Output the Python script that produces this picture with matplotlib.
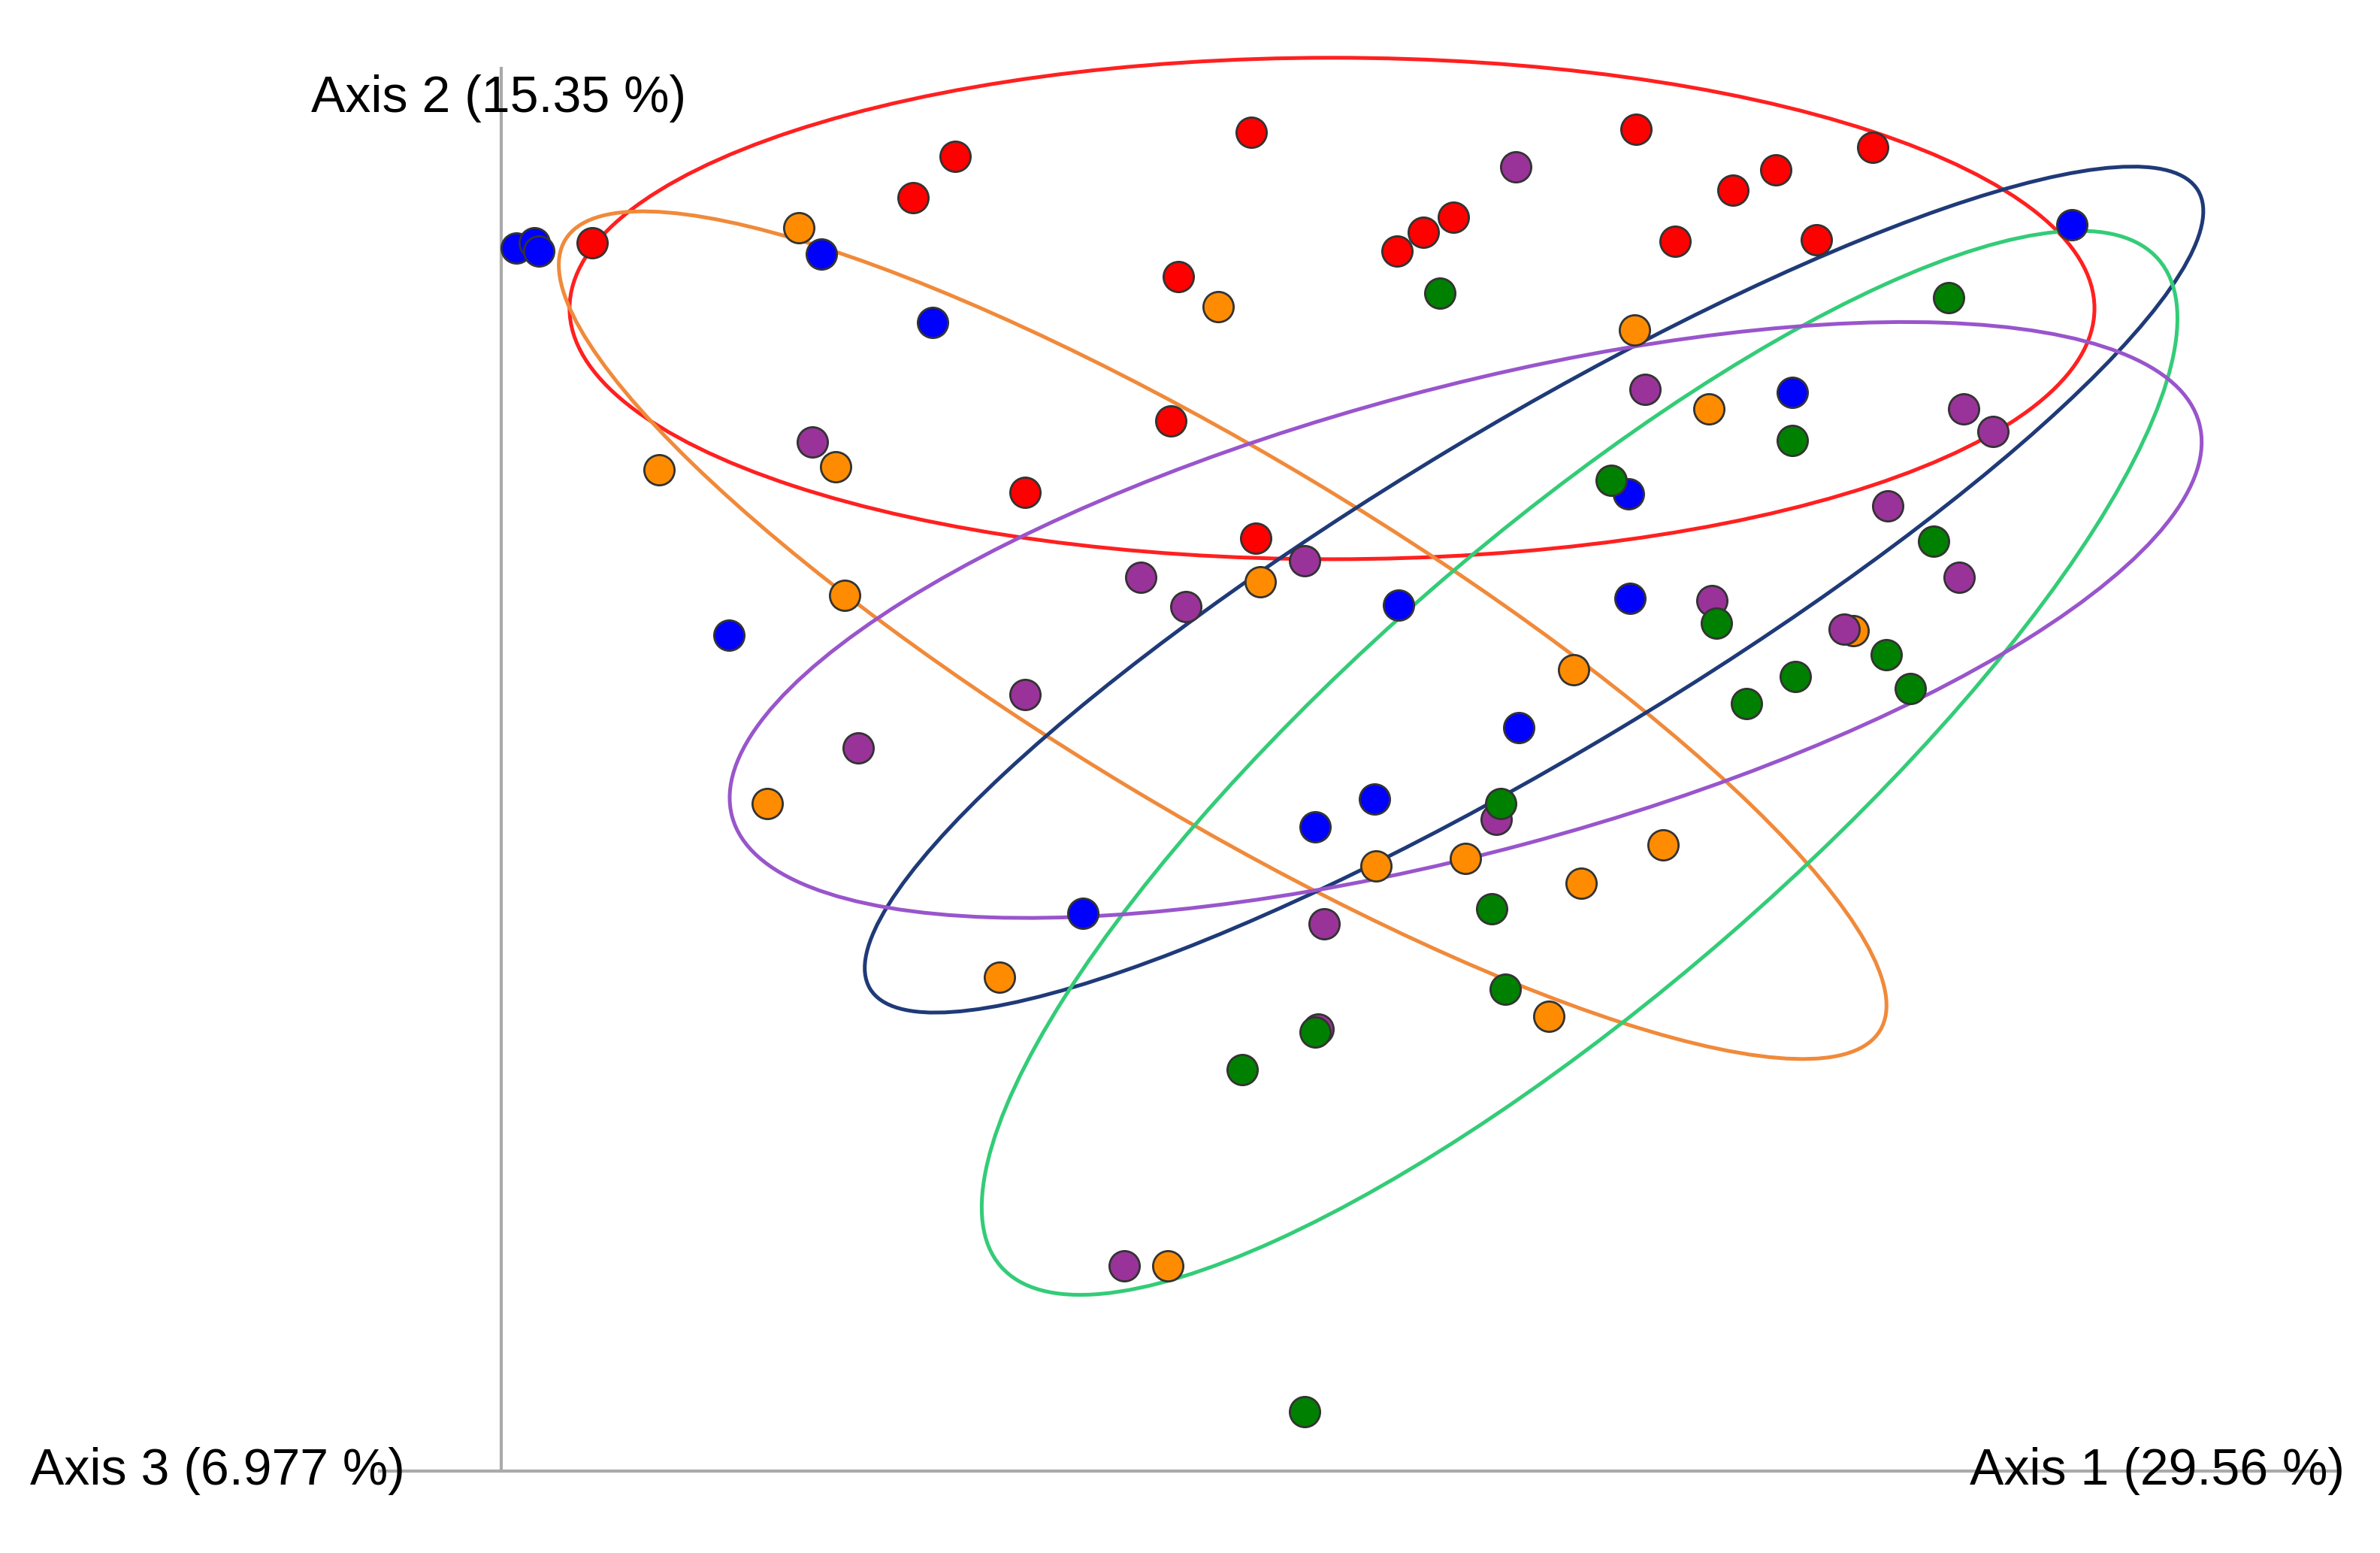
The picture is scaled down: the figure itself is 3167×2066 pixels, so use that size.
import matplotlib
matplotlib.use("Agg")
import matplotlib.pyplot as plt
from matplotlib.patches import Ellipse

# coordinates (image-pixel space, y downward)
red_x = [390, 601, 629, 824, 776, 771, 675, 827, 920, 937, 957, 1077, 1103, 1141, 1169, 1196, 1233]
red_y = [160, 130, 103, 87, 182, 277, 324, 354, 165, 153, 143, 85, 159, 125, 112, 158, 97]
blue_x = [340, 352, 355, 541, 614, 480, 713, 866, 905, 921, 1000, 1072, 1073, 1180, 1364]
blue_y = [163, 160, 165, 167, 212, 418, 601, 544, 526, 398, 479, 325, 394, 258, 148]
orange_x = [526, 802, 434, 550, 556, 505, 658, 830, 906, 965, 1036, 1041, 1095, 1020, 769, 1076, 1125, 1220]
orange_y = [150, 202, 309, 307, 392, 529, 643, 383, 570, 565, 441, 581, 556, 669, 833, 217, 269, 415]
purple_x = [998, 535, 751, 781, 859, 675, 565, 985, 872, 868, 740, 1083, 1127, 1214, 1243, 1293, 1312, 1290]
purple_y = [110, 291, 380, 399, 369, 457, 492, 539, 608, 677, 833, 256, 395, 414, 333, 269, 284, 380]
green_x = [948, 1283, 1180, 1061, 1130, 1150, 1182, 1242, 1258, 1273, 988, 982, 991, 818, 866, 859]
green_y = [193, 196, 290, 316, 410, 463, 445, 431, 453, 356, 529, 598, 651, 704, 679, 929]

# ellipses: center x, center y, width, height, angle, colour
ell_cx = [877, 805, 1010, 1040, 965]
ell_cy = [203, 418, 388, 502, 408]
ell_w = [1004, 1010, 1020, 1010, 1000]
ell_h = [330, 235, 215, 300, 305]
ell_ang = [0, 31, -31, -41, -15]
ell_col = ["#ff2020", "#f08a3a", "#1f3a78", "#33cc77", "#9955cc"]

fig = plt.figure(figsize=(15.835, 10.33), dpi=200)
ax = fig.add_axes([0, 0, 1, 1])
ax.set_xlim(0, 1567)
ax.set_ylim(1022, 0)
ax.axis("off")

ax.plot([330, 330], [45, 968], color="#aaaaaa", lw=1.5, zorder=1)
ax.plot([250, 1540], [968, 968], color="#aaaaaa", lw=1.5, zorder=1)

for cx, cy, w, h, a, c in zip(ell_cx, ell_cy, ell_w, ell_h, ell_ang, ell_col):
    ax.add_patch(Ellipse((cx, cy), w, h, angle=a, fill=False, edgecolor=c, lw=1.8, zorder=2))

groups = [
    (red_x, red_y, "#ff0000"),
    (blue_x, blue_y, "#0000ff"),
    (orange_x, orange_y, "#ff8c00"),
    (purple_x, purple_y, "#993399"),
    (green_x, green_y, "#008000"),
]
for xs, ys, c in groups:
    ax.scatter(xs, ys, s=210, color=c, edgecolor="#333333", linewidth=1.0, zorder=3)

font = dict(fontsize=24.5, family="Liberation Sans", va="center", ha="left")
ax.text(205, 65, "Axis 2 (15.35 %)", **font)
ax.text(20, 968, "Axis 3 (6.977 %)", **font)
ax.text(1297, 968, "Axis 1 (29.56 %)", **font)

fig.savefig("out.png", dpi=200)
